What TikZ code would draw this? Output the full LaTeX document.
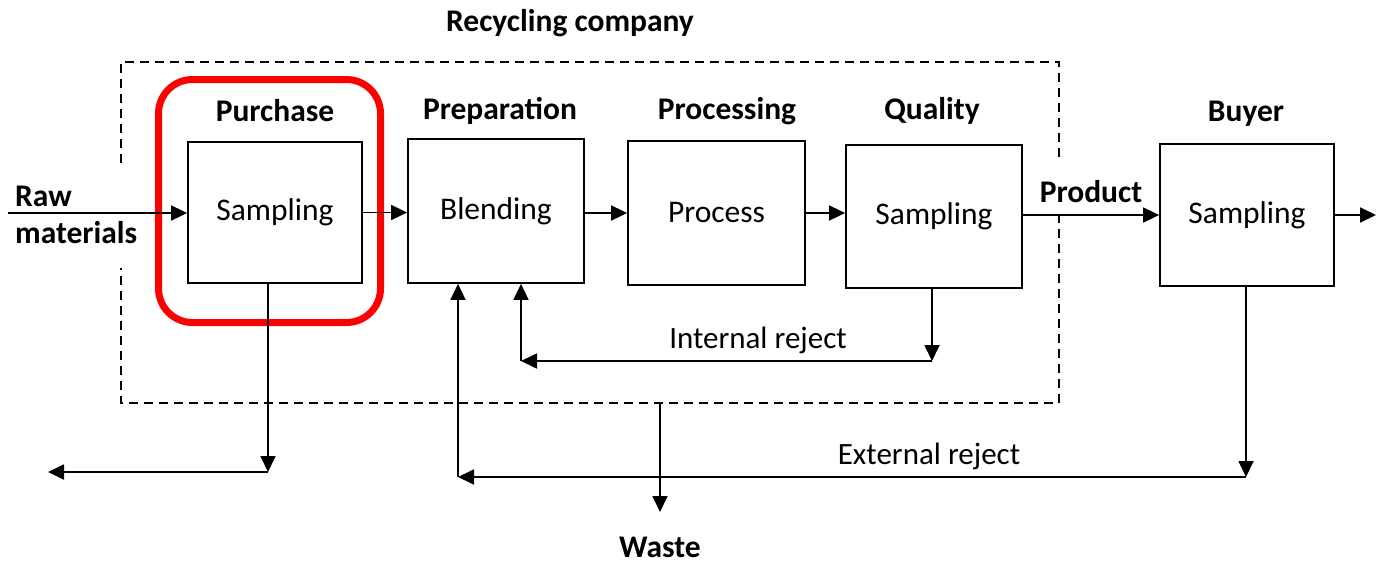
\documentclass[tikz,border=0pt]{standalone}
\usepackage{fontspec}
\setmainfont{Carlito}
\usetikzlibrary{arrows.meta,calc}
\begin{document}
\begin{tikzpicture}[x=1pt,y=-1pt,
  box/.style={draw,line width=1.8pt,inner sep=0pt,font=\fontsize{31.5}{37}\selectfont},
  lab/.style={font=\bfseries\fontsize{31.5}{37}\selectfont,inner sep=0pt},
  txt/.style={font=\fontsize{31}{37}\selectfont,inner sep=0pt},
  conn/.style={line width=1.8pt,-{Triangle[length=16pt,width=15pt]}},
  dashbox/.style={line width=1.6pt,dash pattern=on 9pt off 6pt},
  hl/.style={draw=red,line width=7pt,rounded corners=34pt}
]
\useasboundingbox (0,0) rectangle (1390,563);

% dashed company boundary (with gaps)
\draw[dashbox] (121,163) -- (121,62) -- (1059,62) -- (1059,160);
\draw[dashbox] (1059,214) -- (1059,403) -- (121,403) -- (121,268);

% highlight
\draw[hl] (158.5,79.5) rectangle (380.5,322.5);

% boxes
\node[box,minimum width=174pt,minimum height=141pt] (s1) at (275,212.5) {Sampling};
\node[box,minimum width=176pt,minimum height=144pt] (bl) at (496,211) {Blending};
\node[box,minimum width=177pt,minimum height=144pt] (pr) at (716.5,213) {Process};
\node[box,minimum width=176pt,minimum height=143pt] (q)  at (934,216.5) {Sampling};
\node[box,minimum width=174pt,minimum height=142pt] (b)  at (1247,215) {Sampling};

% headings
\node[lab] (hrc) at (570,23) {Recycling company};
\node[lab] (hpu) at (275,111) {Purchase};
\node[lab] (hpp) at (500,111) {Preparation};
\node[lab] (hpc) at (727,111) {Processing};
\node[lab] (hq)  at (932,111) {Quality};
\node[lab] (hb)  at (1246,114) {Buyer};
\node[lab] (hprod) at (1091,192) {Product};
\node[lab,align=left,anchor=west,font=\bfseries\fontsize{31.5}{37}\selectfont] (raw) at (15,215) {Raw\\materials};
\node[lab] (waste) at (660,547) {Waste};
\node[txt] (ir) at (758,340) {Internal reject};
\node[txt] (er) at (929,456) {External reject};

% coordinates
\coordinate (rawstart) at (8,213);
\coordinate (bout) at (1376,215);
\coordinate (p1) at (268,472);
\coordinate (p2) at (48,472);
\coordinate (i1) at (932,361);
\coordinate (i2) at (521,361);
\coordinate (e1) at (1246,477);
\coordinate (e2) at (458,477);
\coordinate (w1) at (660,403);
\coordinate (w2) at (660,512);

% main flow
\draw[conn] (rawstart) -- (rawstart -| s1.west);
\draw[conn] (s1.east) -- (s1.east -| bl.west);
\draw[conn] (pr.west -| bl.east) -- (pr.west);
\draw[conn] (pr.east) -- (pr.east -| q.west);
\draw[conn] (q.east |- b.west) -- (b.west);
\draw[conn] (b.east) -- (bout);

% purchase reject
\draw[conn] (s1.south -| p1) -- (p1);
\draw[conn] (p1) -- (p2);

% internal reject
\draw[conn] (q.south -| i1) -- (i1);
\draw[conn] (i1) -- (i2);
\draw[conn] (i2) -- (i2 |- bl.south);

% external reject
\draw[conn] (b.south -| e1) -- (e1);
\draw[conn] (e1) -- (e2);
\draw[conn] (e2) -- (e2 |- bl.south);

% waste
\draw[conn] (w1) -- (w2);
\end{tikzpicture}
\end{document}
